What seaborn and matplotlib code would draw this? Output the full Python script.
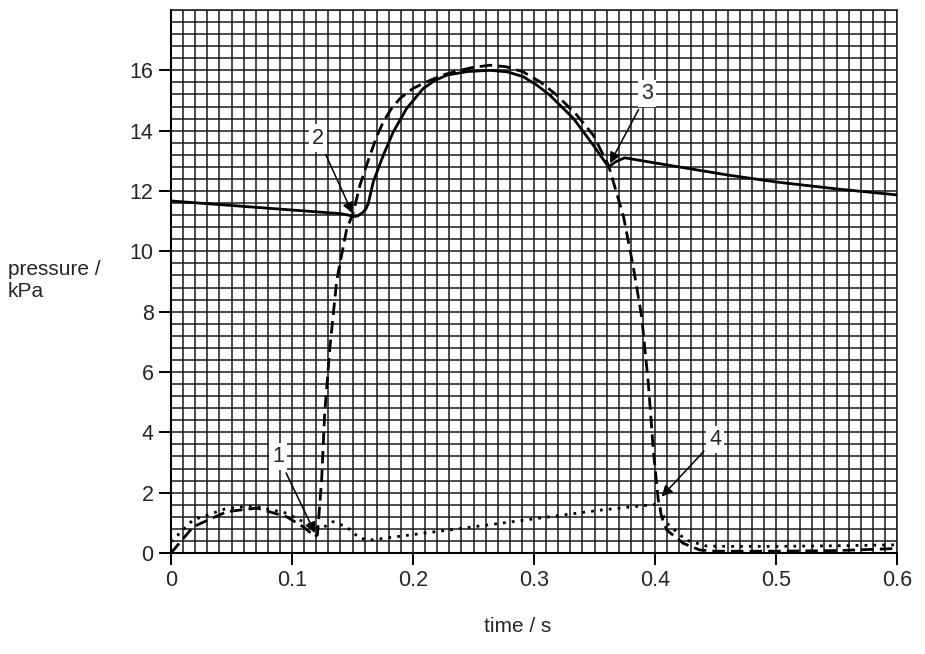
import matplotlib
matplotlib.use("Agg")
import matplotlib.pyplot as plt
from matplotlib.ticker import MultipleLocator, FixedLocator
import seaborn as sns
import pandas as pd

# ---- data ----
solid_t = [0.00, 0.05, 0.10, 0.14, 0.148, 0.1507, 0.154, 0.158, 0.161, 0.163, 0.1672, 0.1755,
           0.1837, 0.1948, 0.2085, 0.218, 0.2279, 0.245, 0.2636, 0.278, 0.291, 0.302, 0.313,
           0.3325, 0.349, 0.3615, 0.368, 0.375, 0.40, 0.43, 0.46, 0.50, 0.55, 0.60]
solid_p = [11.67, 11.52, 11.37, 11.25, 11.19, 11.15, 11.17, 11.27, 11.40, 11.58, 12.31, 13.19,
           13.96, 14.74, 15.40, 15.66, 15.84, 15.96, 16.00, 15.95, 15.79, 15.52, 15.18,
           14.41, 13.52, 12.80, 12.98, 13.10, 12.93, 12.73, 12.53, 12.30, 12.07, 11.87]

dash_t = [0.00, 0.0184, 0.046, 0.0708, 0.0956, 0.110, 0.119, 0.121, 0.1245, 0.127, 0.1314,
          0.137, 0.145, 0.1507, 0.1562, 0.1645, 0.170, 0.1755, 0.182, 0.1893, 0.200, 0.2113,
          0.225, 0.2388, 0.250, 0.2636, 0.277, 0.291, 0.305, 0.3188, 0.3353, 0.349, 0.3615,
          0.374, 0.382, 0.389, 0.3945, 0.3986, 0.4027, 0.4055, 0.4097, 0.4234, 0.437, 0.45,
          0.50, 0.55, 0.60]
dash_p = [0.00, 0.87, 1.37, 1.49, 1.20, 0.85, 0.54, 0.60, 2.42, 4.63, 6.84,
          9.05, 10.70, 11.30, 12.20, 13.19, 13.80, 14.30, 14.72, 15.07, 15.40, 15.62,
          15.85, 16.00, 16.10, 16.17, 16.12, 15.95, 15.62, 15.18, 14.52, 13.85, 12.86,
          11.15, 9.49, 7.83, 5.62, 3.41, 1.76, 1.20, 0.76, 0.32, 0.10, 0.06,
          0.06, 0.08, 0.15]

dot_t = [0.00, 0.018, 0.046, 0.068, 0.0956, 0.112, 0.120, 0.126, 0.134, 0.145, 0.156, 0.1645,
         0.239, 0.3545, 0.4027, 0.410, 0.4255, 0.4427, 0.46, 0.50, 0.55, 0.60]
dot_p = [0.37, 1.09, 1.48, 1.56, 1.32, 0.98, 0.82, 0.85, 1.04, 0.87, 0.49, 0.43,
         0.81, 1.42, 1.62, 0.98, 0.43, 0.23, 0.22, 0.22, 0.24, 0.27]

x_ticks = [0, 0.1, 0.2, 0.3, 0.4, 0.5, 0.6]
x_tick_labels = ["0", "0.1", "0.2", "0.3", "0.4", "0.5", "0.6"]
y_ticks = [0, 2, 4, 6, 8, 10, 12, 14, 16]
y_tick_labels = ["0", "2", "4", "6", "8", "10", "12", "14", "16"]

ann_labels = ["1", "2", "3", "4"]
ann_text_xy = [(0.0887, 3.19), (0.1217, 13.75), (0.3936, 15.24), (0.4496, 3.77)]
ann_head_xy = [(0.119, 0.66), (0.150, 11.26), (0.3628, 12.92), (0.4055, 1.87)]

# ---- styling ----
sns.set_style("white")
plt.rcParams['font.family'] = ['Liberation Sans', 'DejaVu Sans']

fig = plt.figure(figsize=(9.25, 6.54), dpi=100)
ax = fig.add_axes([171 / 925, 1 - 553 / 654, 726 / 925, 543 / 654])

df_solid = pd.DataFrame({"t": solid_t, "p": solid_p})
df_dash = pd.DataFrame({"t": dash_t, "p": dash_p})
df_dot = pd.DataFrame({"t": dot_t, "p": dot_p})

sns.lineplot(data=df_solid, x="t", y="p", ax=ax, color="black", lw=2.0, zorder=4)
sns.lineplot(data=df_dash, x="t", y="p", ax=ax, color="black", lw=2.0,
             linestyle=(0, (4.5, 2.2)), zorder=4)
sns.lineplot(data=df_dot, x="t", y="p", ax=ax, color="black", lw=2.0,
             linestyle=(0, (1, 2.2)), zorder=4)

ax.set_xlim(0, 0.6)
ax.set_ylim(0, 18)
ax.xaxis.set_major_locator(FixedLocator(x_ticks))
ax.set_xticklabels(x_tick_labels)
ax.yaxis.set_major_locator(FixedLocator(y_ticks))
ax.set_yticklabels(y_tick_labels)
ax.xaxis.set_minor_locator(MultipleLocator(0.01))
ax.yaxis.set_minor_locator(MultipleLocator(0.4))

ax.set_axisbelow(True)
ax.grid(which="both", color="#1a1a1a", lw=1.1)

ax.tick_params(which="major", direction="out", length=8.5, width=1.4, color="black",
               labelsize=15.5, pad=4, bottom=True, left=True)
ax.tick_params(which="minor", length=0)

for s in ["left", "bottom"]:
    ax.spines[s].set_color("black")
    ax.spines[s].set_linewidth(1.5)
for s in ["top", "right"]:
    ax.spines[s].set_color("#1a1a1a")
    ax.spines[s].set_linewidth(1.1)

ax.set_xlabel("time / s", fontsize=15, va="center")
ax.xaxis.set_label_coords((518 - 171) / 726, (553 - 627) / 543)
ax.set_ylabel("pressure /\nkPa", fontsize=15, rotation=0, ha="left", va="center",
              linespacing=1.2)
ax.yaxis.set_label_coords((8 - 171) / 726, (553 - 281) / 543)

for lab, txy, hxy in zip(ann_labels, ann_text_xy, ann_head_xy):
    ax.annotate(lab, xy=hxy, xytext=txy, textcoords="data", fontsize=15.5,
                ha="center", va="center", zorder=6,
                bbox=dict(boxstyle="square,pad=0.15", fc="white", ec="none"),
                arrowprops=dict(arrowstyle="-|>", color="black", lw=1.1,
                                mutation_scale=16, shrinkA=2, shrinkB=0))

fig.savefig("out.png", dpi=100, facecolor="white")
